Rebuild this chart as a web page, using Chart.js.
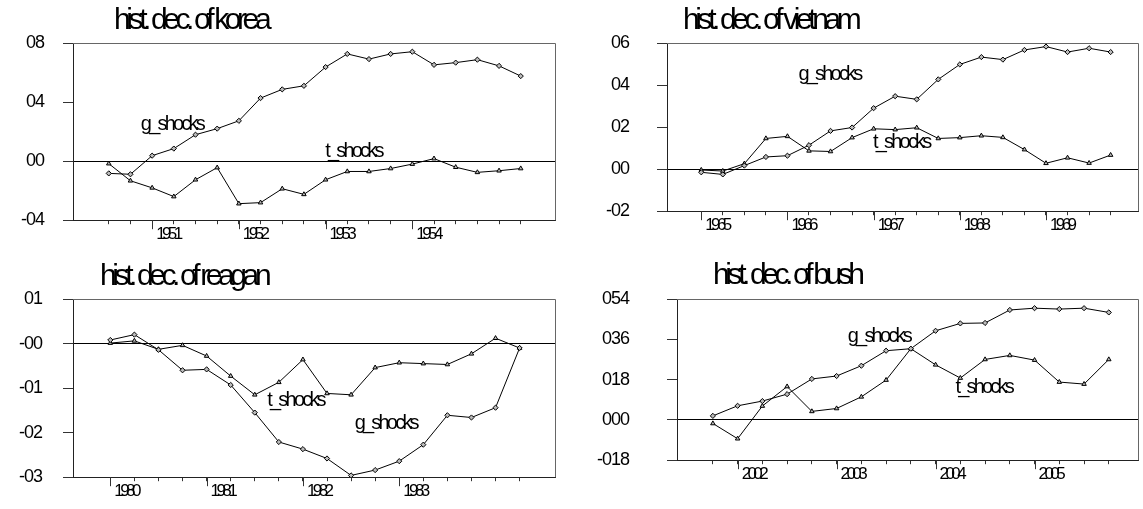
<!DOCTYPE html>
<html>
<head>
<meta charset="utf-8">
<script src="https://cdn.jsdelivr.net/npm/chart.js@4.4.1/dist/chart.umd.min.js"></script>
<style>
  html, body { margin: 0; padding: 0; background: #fff; }
  #page { position: relative; width: 1143px; height: 509px; overflow: hidden; }
  .panel { position: absolute; }
  .panel canvas { position: absolute; left: 0; top: 0; }
  .ttl { position: absolute; font-family: "Liberation Sans", Arial, sans-serif; font-size: 30px;
         line-height: 30px; letter-spacing: -4.4px; color: #000; white-space: nowrap; }
</style>
</head>
<body>
<div id="page">
  <div class="panel" style="left:0;top:0;width:570px;height:250px"><canvas id="korea" width="570" height="250"></canvas></div>
  <div class="panel" style="left:570px;top:0;width:573px;height:250px"><canvas id="vietnam" width="573" height="250"></canvas></div>
  <div class="panel" style="left:0;top:250px;width:570px;height:259px"><canvas id="reagan" width="570" height="259"></canvas></div>
  <div class="panel" style="left:570px;top:250px;width:573px;height:259px"><canvas id="bush" width="573" height="259"></canvas></div>
  <div class="ttl" style="left:114px;top:4px">hist. dec. of korea</div>
  <div class="ttl" style="left:683px;top:4px">hist. dec. of vietnam</div>
  <div class="ttl" style="left:100px;top:260px">hist. dec. of reagan</div>
  <div class="ttl" style="left:713px;top:259px">hist. dec. of bush</div>
</div>
<script>
// korea
const koreaPeriods = ["1950Q3", "1950Q4", "1951Q1", "1951Q2", "1951Q3", "1951Q4", "1952Q1", "1952Q2", "1952Q3", "1952Q4",
    "1953Q1", "1953Q2", "1953Q3", "1953Q4", "1954Q1", "1954Q2", "1954Q3", "1954Q4", "1955Q1", "1955Q2"];
const koreaG = [-0.083, -0.089, 0.037, 0.085, 0.179, 0.220, 0.273, 0.427, 0.486, 0.510,
    0.637, 0.726, 0.691, 0.726, 0.741, 0.652, 0.667, 0.687, 0.645, 0.576];
const koreaT = [-0.017, -0.133, -0.181, -0.240, -0.126, -0.044, -0.288, -0.281, -0.187, -0.225,
    -0.126, -0.070, -0.070, -0.050, -0.020, 0.017, -0.041, -0.076, -0.065, -0.050];
const koreaYears = ["1951", "1952", "1953", "1954"];
const koreaTicks = [-0.4, 0, 0.4, 0.8];
const koreaTickLabels = ["-04", "00", "04", "08"];

// vietnam
const vietnamPeriods = ["1965Q1", "1965Q2", "1965Q3", "1965Q4", "1966Q1", "1966Q2", "1966Q3", "1966Q4", "1967Q1", "1967Q2",
    "1967Q3", "1967Q4", "1968Q1", "1968Q2", "1968Q3", "1968Q4", "1969Q1", "1969Q2", "1969Q3", "1969Q4"];
const vietnamG = [-0.015, -0.025, 0.017, 0.058, 0.064, 0.114, 0.182, 0.198, 0.290, 0.347,
    0.332, 0.427, 0.498, 0.533, 0.521, 0.567, 0.583, 0.557, 0.575, 0.557];
const vietnamT = [-0.004, -0.009, 0.026, 0.146, 0.156, 0.087, 0.084, 0.150, 0.192, 0.188,
    0.197, 0.146, 0.150, 0.159, 0.151, 0.093, 0.028, 0.054, 0.029, 0.067];
const vietnamYears = ["1965", "1966", "1967", "1968", "1969"];
const vietnamTicks = [-0.2, 0, 0.2, 0.4, 0.6];
const vietnamTickLabels = ["-02", "00", "02", "04", "06"];

// reagan
const reaganPeriods = ["1980Q1", "1980Q2", "1980Q3", "1980Q4", "1981Q1", "1981Q2", "1981Q3", "1981Q4", "1982Q1",
    "1982Q2", "1982Q3", "1982Q4", "1983Q1", "1983Q2", "1983Q3", "1983Q4", "1984Q1", "1984Q2"];
const reaganG = [0.008, 0.020, -0.014, -0.060, -0.058, -0.093, -0.155, -0.221, -0.237,
    -0.258, -0.296, -0.284, -0.264, -0.227, -0.161, -0.166, -0.144, -0.010];
const reaganT = [0.001, 0.006, -0.013, -0.004, -0.028, -0.073, -0.115, -0.087, -0.036,
    -0.112, -0.115, -0.054, -0.043, -0.045, -0.047, -0.023, 0.012, -0.010];
const reaganYears = ["1980", "1981", "1982", "1983"];
const reaganTicks = [-0.3, -0.2, -0.1, 0, 0.1];
const reaganTickLabels = ["-03", "-02", "-01", "-00", "01"];

// bush
const bushPeriods = ["2001Q4", "2002Q1", "2002Q2", "2002Q3", "2002Q4", "2003Q1", "2003Q2", "2003Q3", "2003Q4",
    "2004Q1", "2004Q2", "2004Q3", "2004Q4", "2005Q1", "2005Q2", "2005Q3", "2005Q4"];
const bushG = [0.018, 0.063, 0.084, 0.115, 0.183, 0.196, 0.242, 0.309, 0.318,
    0.398, 0.431, 0.433, 0.491, 0.499, 0.495, 0.499, 0.480];
const bushT = [-0.016, -0.084, 0.062, 0.149, 0.038, 0.051, 0.103, 0.178, 0.318,
    0.246, 0.187, 0.270, 0.288, 0.267, 0.169, 0.160, 0.270];
const bushYears = ["2002", "2003", "2004", "2005"];
const bushTicks = [-0.18, 0, 0.18, 0.36, 0.54];
const bushTickLabels = ["-018", "000", "018", "036", "054"];

const FONT = "'Liberation Sans', Arial, sans-serif";

// frame, long year ticks and in-plot series names
const histPlugin = {
    id: "hist",
    beforeDraw(chart) {
        chart.ctx.letterSpacing = "-1px";
    },
    beforeDatasetsDraw(chart) {
        const ctx = chart.ctx;
        const a = chart.chartArea;
        ctx.save();
        ctx.strokeStyle = "#666";
        ctx.lineWidth = 1;
        ctx.beginPath();
        ctx.moveTo(a.left, Math.round(a.top) + 0.5);
        ctx.lineTo(Math.round(a.right) + 0.5, Math.round(a.top) + 0.5);
        ctx.lineTo(Math.round(a.right) + 0.5, a.bottom);
        ctx.stroke();
        ctx.restore();
    },
    afterDatasetsDraw(chart) {
        const ctx = chart.ctx;
        const xs = chart.scales.x;
        ctx.save();
        ctx.strokeStyle = "#333";
        ctx.lineWidth = 1;
        ctx.beginPath();
        xs.ticks.forEach(t => {
            if (t.label) {
                const px = Math.round(xs.getPixelForValue(t.value)) + 0.5;
                ctx.moveTo(px, xs.top);
                ctx.lineTo(px, xs.top + 9);
            }
        });
        ctx.stroke();
        ctx.restore();
        // x labels are drawn after this (ticks.z = 1), squeezed like the original
        ctx.letterSpacing = "-3.6px";
    },
    afterDraw(chart) {
        const ctx = chart.ctx;
        const notes = chart.options.plugins.hist.notes;
        ctx.save();
        ctx.letterSpacing = "-2.8px";
        ctx.font = "20px " + FONT;
        ctx.fillStyle = "#000";
        ctx.textAlign = "left";
        ctx.textBaseline = "alphabetic";
        notes.forEach(n => {
            ctx.fillText(n.text, chart.scales.x.getPixelForValue(n.x), chart.scales.y.getPixelForValue(n.y));
        });
        ctx.restore();
    }
};

function makePanel(id, p) {
    const years = p.years;
    const pts = arr => arr.map((v, i) => ({x: i, y: v}));
    return new Chart(document.getElementById(id), {
        type: "line",
        data: {
            datasets: [
                {
                    label: "g_shocks",
                    data: pts(p.g),
                    borderColor: "#000",
                    borderWidth: 1,
                    pointStyle: "rectRot",
                    pointRadius: 2.6,
                    pointBackgroundColor: "#bbb",
                    pointBorderColor: "#000",
                    pointBorderWidth: 1
                },
                {
                    label: "t_shocks",
                    data: pts(p.t),
                    borderColor: "#000",
                    borderWidth: 1,
                    pointStyle: "triangle",
                    pointRadius: 2.6,
                    pointBackgroundColor: "#bbb",
                    pointBorderColor: "#000",
                    pointBorderWidth: 1
                }
            ]
        },
        options: {
            responsive: false,
            animation: false,
            devicePixelRatio: 1,
            layout: {padding: {left: 0, top: p.box.top, right: p.w - p.box.right, bottom: 0}},
            plugins: {
                legend: {display: false},
                tooltip: {enabled: false},
                hist: {notes: p.notes}
            },
            scales: {
                x: {
                    type: "linear",
                    min: -p.pad[0],
                    max: p.periods.length - 1 + p.pad[1],
                    afterBuildTicks: s => {
                        s.ticks = p.periods.map((q, i) => ({value: i}));
                    },
                    afterFit: s => { s.height = p.h - p.box.bottom; },
                    grid: {drawOnChartArea: false, tickLength: 4, tickColor: "#333"},
                    border: {color: "#222"},
                    ticks: {
                        z: 1,
                        autoSkip: false,
                        maxRotation: 0,
                        align: "start",
                        labelOffset: 4,
                        padding: 0,
                        color: "#000",
                        font: {family: FONT, size: 17},
                        callback: v => {
                            const q = p.periods[v];
                            if (!q || !q.endsWith("Q1")) return "";
                            const yr = q.slice(0, 4);
                            return years.includes(yr) ? yr : "";
                        }
                    }
                },
                y: {
                    min: p.ticks[0],
                    max: p.ticks[p.ticks.length - 1],
                    afterBuildTicks: s => {
                        s.ticks = p.ticks.map(v => ({value: v}));
                    },
                    afterFit: s => { s.width = p.box.left; },
                    grid: {
                        color: c => (c.tick && c.tick.value === 0 ? "#000" : "rgba(0,0,0,0)"),
                        tickColor: "#333",
                        tickLength: 10
                    },
                    border: {color: "#222"},
                    ticks: {
                        padding: p.labelPad,
                        color: "#000",
                        font: {family: FONT, size: 18},
                        callback: (v, i) => p.tickLabels[i]
                    }
                }
            }
        },
        plugins: [histPlugin]
    });
}

makePanel("korea", {
    periods: koreaPeriods, g: koreaG, t: koreaT, years: koreaYears,
    ticks: koreaTicks, tickLabels: koreaTickLabels,
    w: 570, h: 250, box: {left: 73, right: 555, top: 43, bottom: 227}, pad: [1.65, 1.58], labelPad: 19,
    notes: [{text: "g_shocks", x: 1.48, y: 0.211}, {text: "t_shocks", x: 9.98, y: 0.028}]
});

makePanel("vietnam", {
    periods: vietnamPeriods, g: vietnamG, t: vietnamT, years: vietnamYears,
    ticks: vietnamTicks, tickLabels: vietnamTickLabels,
    w: 573, h: 250, box: {left: 97, right: 571, top: 43, bottom: 226}, pad: [1.59, 1.27], labelPad: 28,
    notes: [{text: "g_shocks", x: 4.51, y: 0.425}, {text: "t_shocks", x: 7.97, y: 0.099}]
});

makePanel("reagan", {
    periods: reaganPeriods, g: reaganG, t: reaganT, years: reaganYears,
    ticks: reaganTicks, tickLabels: reaganTickLabels,
    w: 570, h: 259, box: {left: 73, right: 555, top: 49, bottom: 232}, pad: [1.55, 1.47], labelPad: 21,
    notes: [{text: "t_shocks", x: 6.52, y: -0.141}, {text: "g_shocks", x: 10.15, y: -0.191}]
});

makePanel("bush", {
    periods: bushPeriods, g: bushG, t: bushT, years: bushYears,
    ticks: bushTicks, tickLabels: bushTickLabels,
    w: 573, h: 259, box: {left: 107, right: 571, top: 49, bottom: 232}, pad: [1.45, 1.18], labelPad: 38,
    notes: [{text: "g_shocks", x: 5.45, y: 0.348}, {text: "t_shocks", x: 9.80, y: 0.118}]
});
</script>
</body>
</html>
